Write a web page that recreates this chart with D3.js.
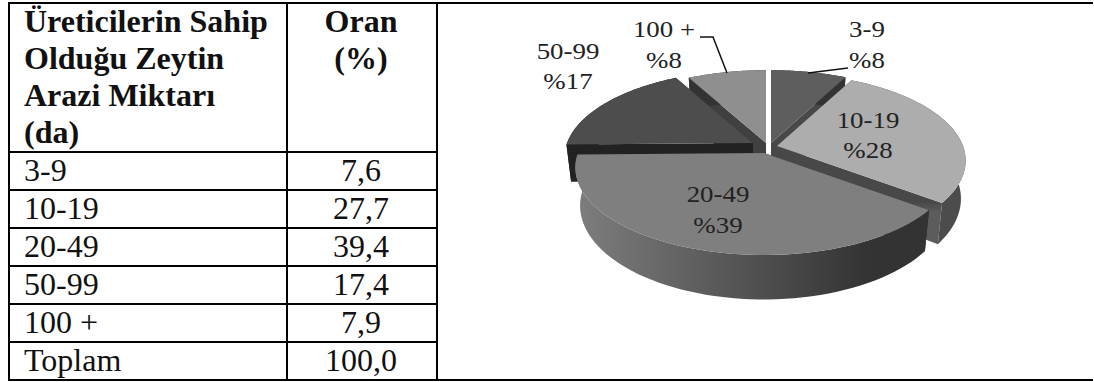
<!DOCTYPE html>
<html lang="tr">
<head>
<meta charset="utf-8">
<script src="https://cdn.jsdelivr.net/npm/d3@7"></script>
<style>
html,body{margin:0;padding:0;background:#fff}
svg{display:block}
text{font-family:"Liberation Serif",serif}
</style>
</head>
<body>
<svg id="chart" width="1094" height="382"></svg>
<script>
// Olive-land size groups and their shares
const categories = ["3-9", "10-19", "20-49", "50-99", "100 +"];
const shares = [7.6, 27.7, 39.4, 17.4, 7.9];
const shareLabels = ["7,6", "27,7", "39,4", "17,4", "7,9"];
const totalLabel = "100,0";
const pieLabels = ["%8", "%28", "%39", "%17", "%8"];
const headerLeft = ["Üreticilerin Sahip", "Olduğu Zeytin", "Arazi Miktarı", "(da)"];
const headerRight = ["Oran", "(%)"];
const totalName = "Toplam";

const svg = d3.select("#chart");
const defs = svg.append("defs");

// Table rules
const rowRules = [152, 190, 228, 266, 304, 342];
const ink = "#111";
const rule = (x1, y1, x2, y2, w = 2) => svg.append("line")
  .attr("x1", x1).attr("y1", y1).attr("x2", x2).attr("y2", y2)
  .attr("stroke", "#000").attr("stroke-width", w);
const frame = {l: 9, r: 1093, t: 3, b: 380, col1: 287, col2: 437};
rule(frame.l, frame.t, frame.r, frame.t);
rule(frame.l, frame.b, frame.r, frame.b);
rule(frame.l, frame.t - 1, frame.l, frame.b + 1);
rule(frame.col1, frame.t, frame.col1, frame.b);
rule(frame.col2, frame.t, frame.col2, frame.b);
rowRules.forEach(y => rule(frame.l, y, frame.col2, y));

// Table text
const cell = (s, x, y, anchor = "start", bold = false) => svg.append("text")
  .attr("x", x).attr("y", y).attr("text-anchor", anchor)
  .attr("font-size", 32).attr("font-weight", bold ? 700 : 400)
  .attr("fill", ink).text(s);
headerLeft.forEach((s, i) => cell(s, 24, 32 + i * 37, "start", true));
headerRight.forEach((s, i) => cell(s, 361, 32 + i * 37, "middle", true));
const rowBase = d3.scaleLinear().domain([0, 1]).range([181, 219]);
categories.forEach((c, i) => {
  cell(c, 24, rowBase(i));
  cell(shareLabels[i], 361, rowBase(i), "middle");
});
cell(totalName, 24, rowBase(5));
cell(totalLabel, 361, rowBase(5), "middle");

// Perspective view of the disc: rim point for a clockwise angle from twelve o'clock
const radius = 186, squash = 85, tilt = 0.167, rimDepth = 37, baseShrink = 0.975;
const project = (a, r = 1) => {
  const X = Math.sin(a) * r, Y = -Math.cos(a) * r, s = 1 / (1 - tilt * Y);
  return {x: radius * X * s, y: squash * Y * s, s};
};
const lower = p => ({x: p.x * baseShrink, y: p.y + rimDepth * p.s});
const arcSteps = (a0, a1) => d3.range(0, 61).map(i => a0 + (a1 - a0) * i / 60);
const path = d3.line().x(p => p.x).y(p => p.y);

const arcs = d3.pie().sort(null).value(d => d)(shares);

// Exploded offset, colours and face shading per slice
const apex = [[771, 143], [777, 146], [764, 153], [753, 143], [766, 143]];
const topFill = ["#5e5e5e", "#adadad", "#7f7f7f", "#4d4d4d", "#8f8f8f"];
const cutFill = ["#484848", "url(#cutLit)", "#242424", "#222222", "#404040"];
const wallStops = [["#333", "#333"], ["#4c4c4c", "#4c4c4c"], ["#7d7d7d", "#333"], ["#222", "#222"], ["#333", "#333"]];
const drawOrder = [4, 0, 3, 1, 2];

// Wall shading runs left to right in each slice's own coordinates
wallStops.forEach((st, i) => {
  const g = defs.append("linearGradient").attr("id", "wall" + i)
    .attr("gradientUnits", "userSpaceOnUse")
    .attr("x1", -186).attr("x2", 105).attr("y1", 0).attr("y2", 0);
  g.append("stop").attr("offset", 0).attr("stop-color", st[0]);
  g.append("stop").attr("offset", 1).attr("stop-color", st[1]);
});

// The 10-19 cut face brightens towards its lower edge
const lit = defs.append("linearGradient").attr("id", "cutLit")
  .attr("gradientUnits", "userSpaceOnUse")
  .attr("x1", 0).attr("x2", 0).attr("y1", 56).attr("y2", 66);
lit.append("stop").attr("offset", 0).attr("stop-color", "#484848");
lit.append("stop").attr("offset", 1).attr("stop-color", "#5c5c5c");

drawOrder.forEach(i => {
  const d = arcs[i];
  const g = svg.append("g").attr("transform", `translate(${apex[i]})`);
  const rim = arcSteps(d.startAngle, d.endAngle).map(a => project(a));
  const first = rim[0], last = rim[rim.length - 1];
  const hub = {x: 0, y: 0, s: 1};
  // two cut faces, then the outer wall, then the top
  [[hub, first], [hub, last]].forEach(([p, q]) => {
    g.append("path").attr("fill", cutFill[i])
      .attr("d", path([p, q, lower(q), lower(p)]) + "Z");
  });
  g.append("path").attr("fill", `url(#wall${i})`)
    .attr("d", path(rim.concat(rim.map(lower).reverse())) + "Z");
  g.append("path").attr("fill", topFill[i])
    .attr("d", path([hub].concat(rim)) + "Z");
});

// Leader lines
const leaders = [
  [[808, 73], [848, 68]],
  [[700, 37], [713, 37], [727, 73]]
];
leaders.forEach(l => svg.append("path").attr("fill", "none")
  .attr("stroke", "#111").attr("stroke-width", 1.5)
  .attr("d", d3.line()(l)));

// Slice labels
const labelAt = [[867, 37, 68], [868, 128, 158], [718, 202, 233], [568, 59, 89], [664, 37, 68]];
categories.forEach((c, i) => {
  const [x, y1, y2] = labelAt[i];
  [[c, y1], [pieLabels[i], y2]].forEach(([s, y]) => {
    svg.append("text")
      .attr("transform", `translate(${x},${y}) scale(1.12,1)`)
      .attr("text-anchor", "middle").attr("font-size", 24)
      .attr("fill", "#222").text(s);
  });
});
</script>
</body>
</html>
